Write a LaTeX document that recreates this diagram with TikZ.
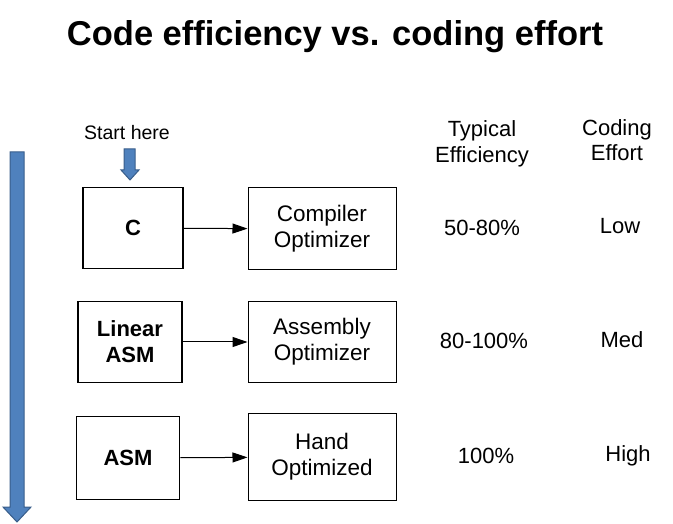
\documentclass[tikz,border=0pt]{standalone}
\usepackage{fontspec}
\setmainfont{Liberation Sans}
\usepackage{tikz}
\usetikzlibrary{arrows.meta, positioning}
\definecolor{arrowblue}{HTML}{4F81BD}
\definecolor{arrowedge}{HTML}{385D8A}
\tikzset{
    srcbox/.style={rectangle, draw=black, line width=1.6pt, text centered, align=center, minimum width=100pt, minimum height=81pt, font=\fontsize{22}{26}\selectfont\bfseries},
    optbox/.style={rectangle, draw=black, line width=1pt, text centered, align=center, minimum width=148pt, minimum height=82pt, font=\fontsize{22.5}{26}\selectfont},
    colhead/.style={align=center, font=\fontsize{22}{25.5}\selectfont},
    cell/.style={font=\fontsize{22}{24}\selectfont},
    arrow/.style={line width=1pt, -{Triangle[length=15pt, width=10pt]}},
    blockarrow/.style={fill=arrowblue, draw=arrowedge, line width=1pt}
}
\begin{document}
\begin{tikzpicture}[x=1pt, y=1pt]
    \useasboundingbox (0,0) rectangle (673,523);
    % Title
    \node (title) at (335,486) {\fontsize{34.5}{38}\selectfont\bfseries Code efficiency vs. coding effort};
    % Column heads
    \node (effhead) [colhead] at (482,379) {Typical\\Efficiency};
    \node (efforthead) [colhead] at (617,383) {Coding\\Effort};
    % Start marker
    \node (start) at (127,390) {\fontsize{19.5}{22}\selectfont Start here};
    % Source boxes
    \node (c) [srcbox] at (133,295) {C};
    \node (lasm) [srcbox, minimum width=104pt] at (130,181) {Linear\\ASM};
    \node (asm) [srcbox, minimum width=103pt, minimum height=83pt] at (128,65) {ASM};
    % Optimizers
    \node (compopt) [optbox] at (322,294) {Compiler\\Optimizer};
    \node (asmopt) [optbox, minimum height=81pt] at (322,181) {Assembly\\Optimizer};
    \node (handopt) [optbox, minimum height=86pt] at (322,66) {Hand\\Optimized};
    % Efficiency and effort
    \node (eff1) [cell] at (482,295) {50-80\%};
    \node (eff2) [cell] at (484,182) {80-100\%};
    \node (eff3) [cell] at (486,67) {100\%};
    \node (effort1) [cell] at (620,297) {Low};
    \node (effort2) [cell] at (622,183) {Med};
    \node (effort3) [cell] at (628,67) {High};
    % Arrows
    \draw [arrow] (c) -- (compopt);
    \draw [arrow] (lasm) -- (asmopt);
    \draw [arrow] (asm) -- (handopt);
    % Block arrows
    \draw [blockarrow] (124,374) -- (135,374) -- (135,353) -- (139,353) -- (130,343) -- (121,353) -- (124,353) -- cycle;
    \draw [blockarrow] (10,371) -- (24,371) -- (24,16) -- (31,16) -- (17,1) -- (3,16) -- (10,16) -- cycle;
\end{tikzpicture}
\end{document}
